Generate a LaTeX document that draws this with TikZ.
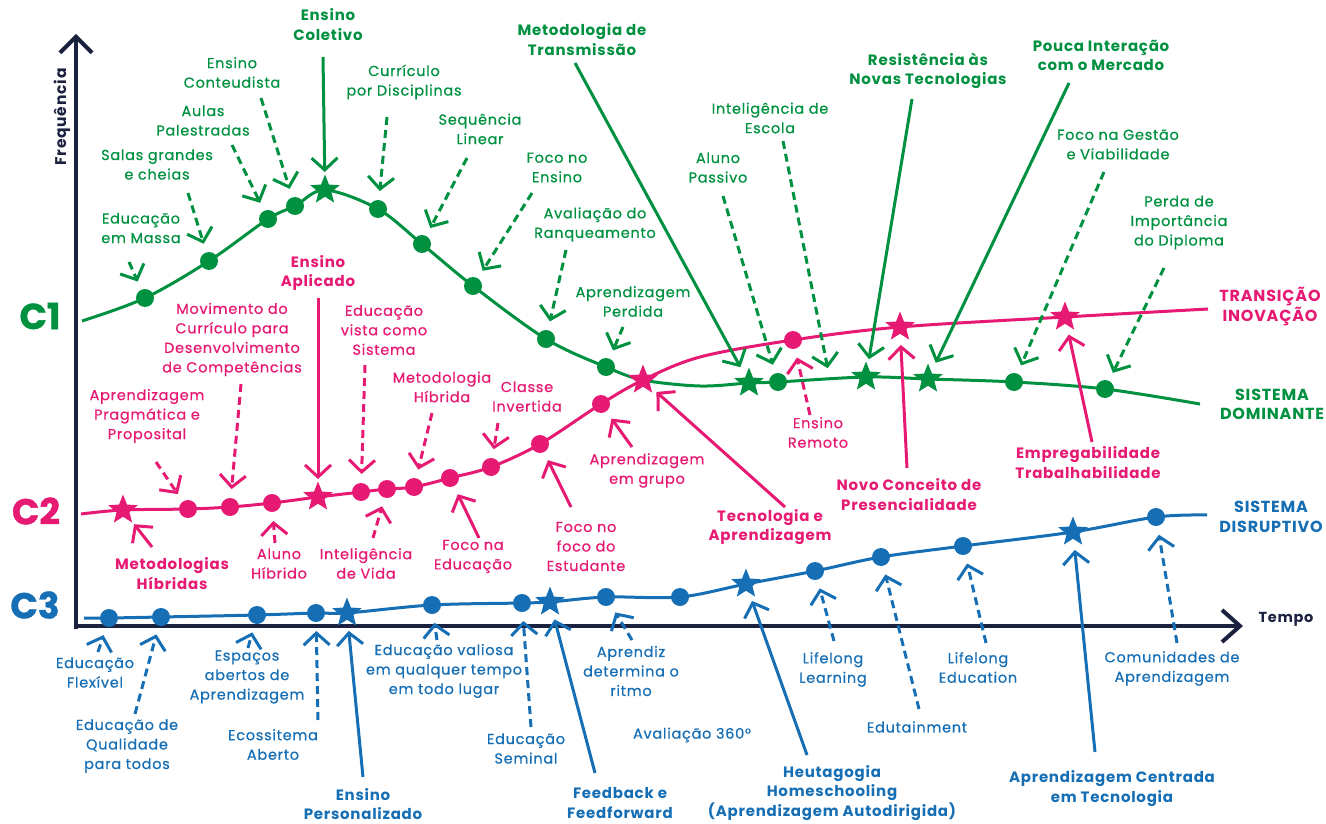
\documentclass[tikz,border=0pt]{standalone}
\usepackage{fontspec}
\setmainfont{Poppins}[LetterSpace=5]
\newfontfamily\medfont{Poppins}[LetterSpace=5,FakeBold=0.6]
\newfontfamily\heavyfont{Poppins Bold}[FakeBold=1.2]
\usetikzlibrary{arrows.meta,shapes.geometric}
\definecolor{cgreen}{RGB}{0,145,64}
\definecolor{cmag}{RGB}{230,25,115}
\definecolor{cblue}{RGB}{22,110,180}
\definecolor{cnavy}{RGB}{27,34,64}
\begin{document}
\begin{tikzpicture}[x=1pt,y=-1pt,
  lbl/.style={align=center,inner sep=0pt,font=\medfont\fontsize{14.5}{19.5}\selectfont},
  lblb/.style={align=center,inner sep=0pt,font=\fontsize{15}{19.5}\selectfont\bfseries},
  side/.style={align=center,inner sep=0pt,font=\fontsize{16}{19.5}\selectfont\bfseries},
  big/.style={inner sep=0pt,font=\heavyfont\fontsize{36}{36}\selectfont},
  dotm/.style={circle,fill,inner sep=0pt,minimum size=18pt},
  starm/.style={star,star points=5,star point ratio=2.3,fill,inner sep=0pt,minimum size=31pt},
  crv/.style={line width=3pt,line join=round},
  arr/.style={line width=3pt,-{Straight Barb[length=12pt,width=26pt]},shorten >=18pt},
  dsh/.style={dash pattern=on 8pt off 5pt},
  axisline/.style={line width=4pt,color=cnavy}
]
\useasboundingbox (0,0) rectangle (1326,824);

% axes
\coordinate (ybot) at (76,629);
\coordinate (ytop) at (76,34);
\coordinate (xbeg) at (74,626);
\coordinate (xend) at (1243,626);
\draw[axisline,-{Straight Barb[length=16pt,width=32pt]}] (ybot) -- (ytop);
\draw[axisline,-{Straight Barb[length=18pt,width=32pt]}] (xbeg) -- (xend);
\node[font=\fontsize{15.5}{15.5}\selectfont\bfseries,text=cnavy,rotate=90] (fq) at (62,117) {Frequência};
\node[font=\fontsize{14.5}{14.5}\selectfont\bfseries,text=cnavy] (tp) at (1286,619) {Tempo};

\node[big,text=cgreen] (C1) at (40,316) {C1};
\node[big,text=cmag] (C2) at (36,511) {C2};
\node[big,text=cblue] (C3) at (35,605) {C3};

% curves
\draw[crv,cgreen] plot[smooth,tension=0.55] coordinates {(82,321) (145,298) (209,261) (268,219) (295,206) (325,190) (378,209) (422,244) (473,286) (546,339) (606,367) (643,380) (700,386) (749,383) (778,382) (866,377) (928,379) (1014,382) (1105,389) (1200,404)};
\draw[crv,cmag] plot[smooth,tension=0.55] coordinates {(81,514) (123,510) (188,509) (230,507) (272,503) (318,497) (361,492) (387,489) (414,487) (450,478) (491,467) (540,444) (601,404) (643,380) (700,357) (793,340) (900,327) (1065,317) (1208,309)};
\draw[crv,cblue] plot[smooth,tension=0.55] coordinates {(84,618) (109,618) (161,617) (257,615) (316,613) (347,613) (432,605) (522,603) (550,602) (606,597) (680,597) (746,584) (815,571) (881,557) (963,546) (1073,532) (1156,517) (1207,515)};

% green markers
\begin{scope}[cgreen]
\node[dotm] (g1) at (145,298) {};
\node[dotm] (g2) at (209,261) {};
\node[dotm] (g3) at (268,219) {};
\node[dotm] (g4) at (295,206) {};
\node[starm] (g5) at (325,190) {};
\node[dotm] (g6) at (378,209) {};
\node[dotm] (g7) at (422,244) {};
\node[dotm] (g8) at (473,286) {};
\node[dotm] (g9) at (546,339) {};
\node[dotm] (g10) at (606,367) {};
\node[starm] (g11) at (749,383) {};
\node[dotm] (g12) at (778,382) {};
\node[starm] (g13) at (866,377) {};
\node[starm] (g14) at (928,379) {};
\node[dotm] (g15) at (1014,382) {};
\node[dotm] (g16) at (1105,389) {};
\coordinate (gE) at (830,380);
\end{scope}
% magenta markers
\begin{scope}[cmag]
\node[starm] (m1) at (123,510) {};
\node[dotm] (m2) at (188,509) {};
\node[dotm] (m3) at (230,507) {};
\node[dotm] (m4) at (272,503) {};
\node[starm] (m5) at (318,497) {};
\node[dotm] (m6) at (361,492) {};
\node[dotm] (m7) at (387,489) {};
\node[dotm] (m8) at (414,487) {};
\node[dotm] (m9) at (450,478) {};
\node[dotm] (m10) at (491,467) {};
\node[dotm] (m11) at (540,444) {};
\node[dotm] (m12) at (601,404) {};
\node[starm] (m13) at (643,380) {};
\node[dotm] (m14) at (793,340) {};
\node[starm] (m15) at (900,327) {};
\node[starm] (m16) at (1065,317) {};
\end{scope}
% blue markers
\begin{scope}[cblue]
\node[dotm] (b1) at (109,618) {};
\node[dotm] (b2) at (161,617) {};
\node[dotm] (b3) at (257,615) {};
\node[dotm] (b4) at (316,613) {};
\node[starm] (b5) at (347,613) {};
\node[dotm] (b6) at (432,605) {};
\node[dotm] (b7) at (522,603) {};
\node[starm] (b8) at (550,602) {};
\node[dotm] (b9) at (606,597) {};
\node[dotm] (b10) at (680,597) {};
\node[starm] (b11) at (746,584) {};
\node[dotm] (b12) at (815,571) {};
\node[dotm] (b13) at (881,557) {};
\node[dotm] (b14) at (963,546) {};
\node[starm] (b15) at (1073,532) {};
\node[dotm] (b16) at (1156,517) {};
\end{scope}

% green labels
\begin{scope}[every node/.append style={text=cgreen}]
\node[lbl] (L1) at (141,228) {Educação\\em Massa};
\node[lbl] (L2) at (157,164.5) {Salas grandes\\e cheias};
\node[lbl] (L3) at (203,120.5) {Aulas\\Palestradas};
\node[lbl] (L4) at (232,72.5) {Ensino\\Conteudista};
\node[lblb] (L5) at (328,24.5) {Ensino\\Coletivo};
\node[lbl] (L6) at (404,82) {Currículo\\por Disciplinas};
\node[lbl] (L7) at (480,129) {Sequência\\Linear};
\node[lbl] (L8) at (557,167.5) {Foco no\\Ensino};
\node[lbl] (L9) at (595,224.5) {Avaliação do\\Ranqueamento};
\node[lbl] (L10) at (633,301.5) {Aprendizagem\\Perdida};
\node[lblb] (L11) at (582,39.5) {Metodologia de\\Transmissão};
\node[lbl] (L12) at (718,167.5) {Aluno\\Passivo};
\node[lbl] (L13) at (770,118) {Inteligência de\\Escola};
\node[lblb] (L14) at (928,71) {Resistência às\\Novas Tecnologias};
\node[lblb] (L15) at (1101,55.5) {Pouca Interação\\com o Mercado};
\node[lbl] (L16) at (1118,144.5) {Foco na Gestão\\e Viabilidade};
\node[lbl] (L17) at (1179,222.5) {Perda de\\Importância\\do Diploma};
\node[side] (T2) at (1272,404.5) {SISTEMA\\DOMINANTE};
\end{scope}
% magenta labels
\begin{scope}[every node/.append style={text=cmag}]
\node[side] (T1) at (1270,306.5) {TRANSIÇÃO\\INOVAÇÃO};
\node[lblb] (L18) at (318,273) {Ensino\\Aplicado};
\node[lbl] (L19) at (232,339.5) {Movimento do\\Currículo para\\Desenvolvimento\\de Competências};
\node[lbl] (L20) at (384,330) {Educação\\vista como\\Sistema};
\node[lbl] (L21) at (442,387) {Metodologia\\Híbrida};
\node[lbl] (L22) at (527,396.5) {Classe\\Invertida};
\node[lbl] (L23) at (147,416) {Aprendizagem\\Pragmática e\\Proposital};
\node[lblb] (L24) at (172,573.5) {Metodologias\\Híbridas};
\node[lbl] (L25) at (279,563.5) {Aluno\\Híbrido};
\node[lbl] (L26) at (366,563.5) {Inteligência\\de Vida};
\node[lbl] (L27) at (473,556.5) {Foco na\\Educação};
\node[lbl] (L28) at (586,546.5) {Foco no\\foco do\\Estudante};
\node[lbl] (L29) at (647,470.5) {Aprendizagem\\em grupo};
\node[lblb] (L30) at (770,527) {Tecnologia e\\Aprendizagem};
\node[lbl] (L31) at (818,432.5) {Ensino\\Remoto};
\node[lblb] (L32) at (909,494.5) {Novo Conceito de\\Presencialidade};
\node[lblb] (L33) at (1088,462.5) {Empregabilidade\\Trabalhabilidade};
\end{scope}
% blue labels
\begin{scope}[every node/.append style={text=cblue}]
\node[side] (T3) at (1271,517) {SISTEMA\\DISRUPTIVO};
\node[lbl] (L34) at (95,672.5) {Educação\\Flexível};
\node[lbl] (L35) at (127,746) {Educação de\\Qualidade\\para todos};
\node[lbl] (L36) at (247,677) {Espaços\\abertos de\\Aprendizagem};
\node[lbl] (L37) at (273,744.5) {Ecossitema\\Aberto};
\node[lblb] (L38) at (363,804) {Ensino\\Personalizado};
\node[lbl] (L39) at (444,671) {Educação valiosa\\em qualquer tempo\\em todo lugar};
\node[lbl] (L40) at (526,748.5) {Educação\\Seminal};
\node[lblb] (L41) at (620,803) {Feedback e\\Feedforward};
\node[lbl] (L42) at (631,671) {Aprendiz\\determina o\\ritmo};
\node[lbl] (L43) at (692,735) {Avaliação 360°};
\node[lblb] (L44) at (832,793) {Heutagogia\\Homeschooling\\(Aprendizagem Autodirigida)};
\node[lbl] (L45) at (833,669.5) {Lifelong\\Learning};
\node[lbl] (L46) at (917,727) {Edutainment};
\node[lbl] (L47) at (978,667.5) {Lifelong\\Education};
\node[lblb] (L48) at (1112,788.5) {Aprendizagem Centrada\\em Tecnologia};
\node[lbl] (L49) at (1172,668.5) {Comunidades de\\Aprendizagem};
\end{scope}

% arrow start points
\coordinate (s1) at (129,262); \coordinate (s2) at (188,193);
\coordinate (s3) at (232,145); \coordinate (s4) at (261,98);
\coordinate (s5) at (323,57); \coordinate (s6) at (387,117);
\coordinate (s7) at (467,158); \coordinate (s8) at (532,193);
\coordinate (s9) at (566,250); \coordinate (s10) at (623,327);
\coordinate (s11) at (575,63); \coordinate (s12) at (723,196);
\coordinate (s13) at (783,141); \coordinate (s14) at (912,99);
\coordinate (s15) at (1069,83); \coordinate (s16) at (1104,172);
\coordinate (s17) at (1164,268);
\coordinate (s18) at (318,298); \coordinate (s19) at (241,384);
\coordinate (s20) at (365,365); \coordinate (s21) at (432,413);
\coordinate (s22) at (498,423); \coordinate (s23) at (156,462);
\coordinate (s24) at (152,547); \coordinate (s25) at (275,543);
\coordinate (s26) at (373,538); \coordinate (s27) at (479,538);
\coordinate (s28) at (571,507); \coordinate (s29) at (632,447);
\coordinate (s30) at (785,507); \coordinate (s31) at (810,415);
\coordinate (s32) at (907,468); \coordinate (s33) at (1092,442);
\coordinate (s34) at (98,652); \coordinate (s35) at (135,714);
\coordinate (s36) at (248,648); \coordinate (s37) at (318,720);
\coordinate (s38) at (363,777); \coordinate (s39) at (437,640);
\coordinate (s40) at (531,727); \coordinate (s41) at (595,773);
\coordinate (s42) at (632,640); \coordinate (s44) at (807,755);
\coordinate (s45) at (834,641); \coordinate (s46) at (919,709);
\coordinate (s47) at (986,643); \coordinate (s48) at (1095,752);
\coordinate (s49) at (1177,643);

% green arrows
\begin{scope}[cgreen]
\draw[arr,dsh] (s1) -- (g1.center);
\draw[arr,dsh] (s2) -- (g2.center);
\draw[arr,dsh] (s3) -- (g3.center);
\draw[arr,dsh] (s4) -- (g4.center);
\draw[arr] (s5) -- (g5.center);
\draw[arr,dsh] (s6) -- (g6.center);
\draw[arr,dsh] (s7) -- (g7.center);
\draw[arr,dsh] (s8) -- (g8.center);
\draw[arr,dsh] (s9) -- (g9.center);
\draw[arr,dsh] (s10) -- (g10.center);
\draw[arr] (s11) -- (g11.center);
\draw[arr,dsh] (s12) -- (g12.center);
\draw[arr,dsh,shorten >=12pt] (s13) -- (gE);
\draw[arr] (s14) -- (g13.center);
\draw[arr] (s15) -- (g14.center);
\draw[arr,dsh] (s16) -- (g15.center);
\draw[arr,dsh] (s17) -- (g16.center);
\end{scope}
% magenta arrows
\begin{scope}[cmag]
\draw[arr] (s18) -- (m5.center);
\draw[arr,dsh] (s19) -- (m3.center);
\draw[arr,dsh] (s20) -- (m6.center);
\draw[arr,dsh] (s21) -- (m8.center);
\draw[arr,dsh] (s22) -- (m10.center);
\draw[arr,dsh] (s23) -- (m2.center);
\draw[arr] (s24) -- (m1.center);
\draw[arr,dsh] (s25) -- (m4.center);
\draw[arr,dsh] (s26) -- (m7.center);
\draw[arr] (s27) -- (m9.center);
\draw[arr] (s28) -- (m11.center);
\draw[arr] (s29) -- (m12.center);
\draw[arr] (s30) -- (m13.center);
\draw[arr,dsh] (s31) -- (m14.center);
\draw[arr] (s32) -- (m15.center);
\draw[arr] (s33) -- (m16.center);
\end{scope}
% blue arrows
\begin{scope}[cblue]
\draw[arr,dsh] (s34) -- (b1.center);
\draw[arr,dsh] (s35) -- (b2.center);
\draw[arr,dsh] (s36) -- (b3.center);
\draw[arr,dsh] (s37) -- (b4.center);
\draw[arr] (s38) -- (b5.center);
\draw[arr,dsh] (s39) -- (b6.center);
\draw[arr,dsh] (s40) -- (b7.center);
\draw[arr] (s41) -- (b8.center);
\draw[arr,dsh] (s42) -- (b9.center);
\draw[arr] (s44) -- (b11.center);
\draw[arr,dsh] (s45) -- (b12.center);
\draw[arr,dsh] (s46) -- (b13.center);
\draw[arr,dsh] (s47) -- (b14.center);
\draw[arr] (s48) -- (b15.center);
\draw[arr,dsh] (s49) -- (b16.center);
\end{scope}
\end{tikzpicture}
\end{document}
